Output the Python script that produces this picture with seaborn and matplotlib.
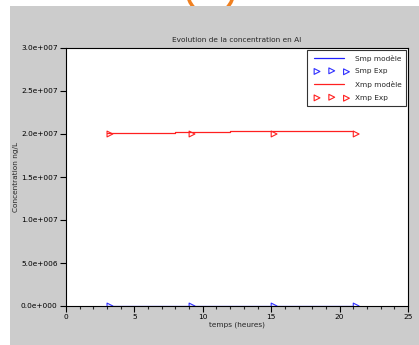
import numpy as np
import pandas as pd
import matplotlib
matplotlib.use("Agg")
import matplotlib.pyplot as plt
import seaborn as sns
from matplotlib.patches import Rectangle, Ellipse
from matplotlib.path import Path
from matplotlib.markers import MarkerStyle
from matplotlib.ticker import MultipleLocator, FuncFormatter

# Data
exp_times = [3, 9, 15, 21]
smp_exp = [0.0, 0.0, 0.0, 0.0]
xmp_exp = [2.0e7, 2.0e7, 2.0e7, 2.0e7]
model_times = [3, 5.5, 5.5, 8, 8, 12, 12, 18, 18, 21]
smp_model = [0, 0, 0, 0, 0, 0, 0, 0, 0, 0]
xmp_model = [2.01e7, 2.01e7, 2.016e7, 2.016e7, 2.022e7, 2.022e7, 2.03e7, 2.03e7, 2.04e7, 2.04e7]

title = "Evolution de la concentration en Al"
xlabel = "temps (heures)"
ylabel = "Concentration ng/L"

sns.set_style("white")
plt.rcParams['font.family'] = ['DejaVu Sans']

W, H = 419, 345
fig = plt.figure(figsize=(W / 100, H / 100), dpi=100)
fig.patch.set_facecolor("white")
fig.patches.append(Ellipse((210.5 / W, 1 + 8.5 / H), 46.2 / W, 46.2 / H,
                           transform=fig.transFigure, facecolor="none",
                           edgecolor="#f08020", lw=2.5, zorder=-3))
fig.patches.append(Rectangle((10 / W, 0), 1 - 10 / W, 1 - 6 / H, transform=fig.transFigure,
                             facecolor="#cccccc", edgecolor="none", zorder=-2))

ax = fig.add_axes([66 / W, 39 / H, (408 - 66) / W, (306 - 48) / H])
ax.set_facecolor("white")

# right-pointing triangle whose left edge sits on the data point
tri = MarkerStyle(Path([(0, -0.5), (1, 0), (0, 0.5), (0, -0.5)],
                       [Path.MOVETO, Path.LINETO, Path.LINETO, Path.CLOSEPOLY]))

df_model = pd.DataFrame({"t": model_times, "smp": smp_model, "xmp": xmp_model})
df_exp = pd.DataFrame({"t": exp_times, "smp": smp_exp, "xmp": xmp_exp})

sns.lineplot(data=df_model, x="t", y="smp", ax=ax, color="#2020ff", lw=0.9,
             label="Smp modèle", sort=False, estimator=None)
sns.scatterplot(data=df_exp, x="t", y="smp", ax=ax, marker=tri, s=70,
                facecolors="none", edgecolor="#3030ff", linewidth=0.8, label="Smp Exp", zorder=5)
sns.lineplot(data=df_model, x="t", y="xmp", ax=ax, color="#ff2020", lw=0.9,
             label="Xmp modèle", sort=False, estimator=None)
sns.scatterplot(data=df_exp, x="t", y="xmp", ax=ax, marker=tri, s=70,
                facecolors="none", edgecolor="#ff2020", linewidth=0.8, label="Xmp Exp", zorder=5)

ax.set_xlim(0, 25)
ax.set_ylim(0, 3.0e7)
ax.xaxis.set_major_locator(MultipleLocator(5))
ax.xaxis.set_minor_locator(MultipleLocator(1))
ax.yaxis.set_major_locator(MultipleLocator(5e6))


def sci(v, pos):
    if v == 0:
        return "0.0e+000"
    e = int(np.floor(np.log10(abs(v))))
    m = v / 10 ** e
    return f"{m:.1f}e+{e:03d}"


ax.yaxis.set_major_formatter(FuncFormatter(sci))
ax.tick_params(axis="both", which="major", direction="out", length=4, width=0.8,
               labelsize=5.3, colors="black", left=True, bottom=True, pad=2)
ax.tick_params(axis="x", which="minor", direction="out", length=2, width=0.8, bottom=True)
for sp in ax.spines.values():
    sp.set_color("black")
    sp.set_linewidth(0.8)

ax.set_title(title, fontsize=5.3, pad=4)
ax.set_xlabel(xlabel, fontsize=5.3, labelpad=1)
ax.set_ylabel(ylabel, fontsize=5.3, labelpad=1.5)

leg = ax.legend(loc="upper right", fontsize=5.3, scatterpoints=3, numpoints=3,
                frameon=True, fancybox=False, borderaxespad=0.25, handlelength=4.6,
                handletextpad=1.2, labelspacing=0.9, borderpad=0.65, markerfirst=True)
leg.get_frame().set_edgecolor("black")
leg.get_frame().set_linewidth(0.8)

fig.savefig("out.png", dpi=100)
